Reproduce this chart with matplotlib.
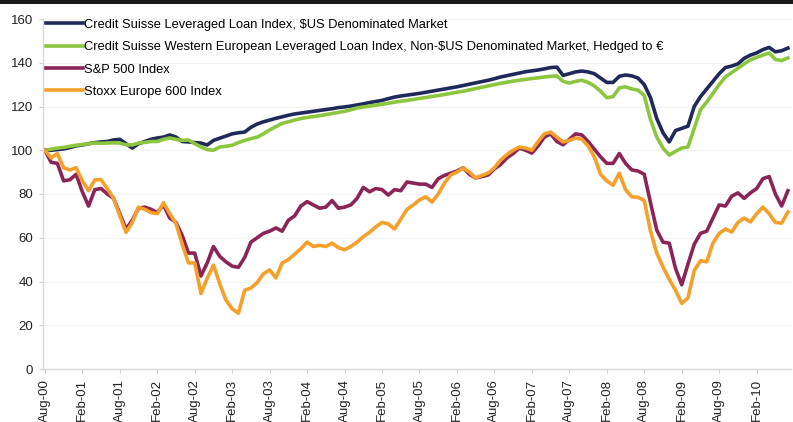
import matplotlib
matplotlib.use("Agg")
import matplotlib.pyplot as plt
from matplotlib.patches import Rectangle

plt.rcParams['font.family'] = ['Liberation Sans', 'DejaVu Sans']

tick_labels = ["Aug-00", "Feb-01", "Aug-01", "Feb-02", "Aug-02", "Feb-03", "Aug-03",
               "Feb-04", "Aug-04", "Feb-05", "Aug-05", "Feb-06", "Aug-06", "Feb-07",
               "Aug-07", "Feb-08", "Aug-08", "Feb-09", "Aug-09", "Feb-10"]

series_names = [
    "Credit Suisse Leveraged Loan Index, $US Denominated Market",
    "Credit Suisse Western European Leveraged Loan Index, Non-$US Denominated Market, Hedged to \u20ac",
    "S&P 500 Index",
    "Stoxx Europe 600 Index",
]

# Monthly values, Aug-00 .. Jul-10
cs_us_loans = [
    100, 100, 100.3, 100.6, 101.2, 102, 102.4, 103, 103.5, 103.8,
    104, 104.7, 105, 103, 101, 103, 104, 105, 105.6, 106,
    107, 106, 104, 103.8, 103.5, 103.3, 102.4, 104.5, 105.5, 106.5,
    107.5, 108, 108.3, 110.5, 112, 113, 113.8, 114.6, 115.3, 116,
    116.6, 117, 117.4, 117.8, 118.2, 118.6, 119, 119.5, 119.8, 120.2,
    120.7, 121.2, 121.8, 122.3, 122.8, 123.6, 124.3, 124.8, 125.2, 125.6,
    126, 126.5, 127, 127.5, 128, 128.5, 129, 129.6, 130.2, 130.8,
    131.4, 132, 132.7, 133.5, 134.1, 134.7, 135.3, 135.9, 136.3, 136.7,
    137.2, 137.8, 138, 134.2, 135, 135.8, 136.2, 135.8, 135, 133,
    131, 131, 133.8, 134.4, 134, 133, 130, 124, 114.5, 108,
    103.8, 109, 110, 111, 120, 124.5, 128, 131.5, 135, 137.8,
    138.5, 139.5, 142, 143.5, 144.5, 146, 147, 145, 145.5, 146.7,
]
cs_eur_loans = [
    100, 100.5, 101, 101.3, 101.8, 102.3, 102.6, 103, 103.3, 103.2,
    103.3, 103.4, 103.3, 102.5, 102.4, 103.3, 103.6, 104, 104, 105,
    105.6, 105, 104.5, 104.7, 103, 101.5, 100.3, 100, 101.5, 101.8,
    102.3, 103.5, 104.5, 105.3, 106, 107.5, 109.3, 110.8, 112.3, 113,
    113.8, 114.5, 115, 115.4, 115.8, 116.3, 116.8, 117.3, 117.8, 118.5,
    119.3, 119.8, 120.2, 120.6, 121, 121.5, 122, 122.4, 122.8, 123.2,
    123.7, 124.1, 124.6, 125, 125.5, 126, 126.5, 127, 127.6, 128.2,
    128.8, 129.4, 130, 130.6, 131.1, 131.6, 132, 132.4, 132.8, 133.1,
    133.5, 133.8, 134, 131.5, 130.7, 131.5, 132, 131, 129.4, 127,
    124, 124.5, 128.5, 129, 128, 127.5, 125, 114, 106, 101,
    97.8, 99.5, 101, 101.5, 110, 118.5, 122, 126, 130, 133.5,
    135.5, 137.5, 139.5, 141.3, 142.5, 143.5, 144.5, 141.5, 141, 142.2,
]
sp500 = [
    100, 94.5, 94, 86, 86.5, 89, 81, 74.5, 82, 82.5,
    80, 78, 71, 64, 68, 73.5, 74, 73, 71.5, 75,
    69, 67, 61, 53, 53, 42.5, 48.5, 56, 51.5, 49,
    47, 46.5, 51, 58, 60, 62, 63, 64.5, 63, 68,
    70, 74.5, 76.5, 75, 73.5, 74, 77, 73.5, 74, 75,
    78, 83, 81, 82.5, 82, 79.5, 82, 81.5, 85.5, 85,
    84.5, 84.5, 83, 87, 88.5, 89.5, 90.5, 92, 89, 87.3,
    88, 88.7, 91.5, 93.5, 96.5, 98.5, 101, 100, 98.7, 102,
    106, 107.5, 104, 102.5, 105, 107.5, 107, 104, 100.5, 97,
    94, 94, 98.5, 94, 91, 90.5, 89, 76, 63.5, 58,
    57.5, 46, 38.5, 48, 57, 62, 63, 69, 75, 74.5,
    79, 80.5, 78, 80.5, 82.5, 87, 88, 80, 74.5, 81.5,
]
stoxx600 = [
    100, 96.5, 98.5, 92, 91, 92, 86, 81.5, 86.5, 86.5,
    82.5, 78, 70, 62.5, 67, 74, 73, 71.5, 71, 76,
    71, 66.5, 57, 48.5, 48.5, 34.5, 41.5, 47.5, 39, 31.5,
    27.5, 25.5, 36, 37, 39.5, 43.5, 45.3, 41.6, 48.5, 50,
    52.5, 55, 58, 56, 56.5, 56, 57.5, 55.5, 54.5, 56,
    58, 60.5, 62.5, 65, 67, 66.3, 64, 68.5, 73, 75,
    77.3, 78.7, 76.3, 80, 85, 88.7, 90, 91.9, 90, 87.3,
    88.5, 89.6, 92, 95.5, 98, 100, 101.5, 101, 100, 104,
    107.5, 108.3, 106, 103.8, 104.5, 105.6, 105, 102, 97, 89,
    86, 84, 89.5, 82, 78.7, 78.5, 77, 63, 53, 46.6,
    41, 36, 30, 32.5, 45, 49.5, 49, 57.6, 62, 64,
    62.6, 67, 69, 67.2, 71, 74, 71, 67, 66.7, 71.8,
]

colors = ["#1f2a5a", "#8cc63e", "#8b2558", "#f5a02a"]
all_series = [cs_us_loans, cs_eur_loans, sp500, stoxx600]

fig = plt.figure(figsize=(7.93, 4.22), dpi=100)
ax = fig.add_axes([43 / 793, (422 - 369) / 422, (791 - 43) / 793, (369 - 19) / 422])

months = list(range(len(sp500)))
for name, vals, c in zip(series_names, all_series, colors):
    ax.plot(months, vals, color=c, lw=2.6, label=name, solid_joinstyle='round')

ax.set_xlim(-0.3, 119.5)
ax.set_ylim(0, 160)
ax.set_yticks(range(0, 161, 20))
ax.set_xticks(range(0, 6 * len(tick_labels), 6))
ax.set_xticklabels(tick_labels, rotation=90)
ax.tick_params(axis='both', labelsize=9.5, colors='#d0d0d0', labelcolor='#222222', length=3, width=0.8)
ax.tick_params(axis='x', pad=4)
ax.tick_params(axis='y', pad=4)

for s in ['top', 'right']:
    ax.spines[s].set_visible(False)
for s in ['left', 'bottom']:
    ax.spines[s].set_color('#d8d8d8')
    ax.spines[s].set_linewidth(1.0)

ax.yaxis.grid(True, color='#f3f3f3', lw=0.8)
ax.set_axisbelow(True)

leg = ax.legend(loc='upper left', bbox_to_anchor=(0.0, 1.008), frameon=False, fontsize=9.3,
                handlelength=2.9, handletextpad=0.1, labelspacing=0.8, borderaxespad=0.0,
                borderpad=0.2)

fig.add_artist(Rectangle((0, (422 - 4) / 422), 1, 4 / 422, transform=fig.transFigure,
                         facecolor='#1a1a1a', edgecolor='none'))

fig.savefig("out.png", dpi=100)
